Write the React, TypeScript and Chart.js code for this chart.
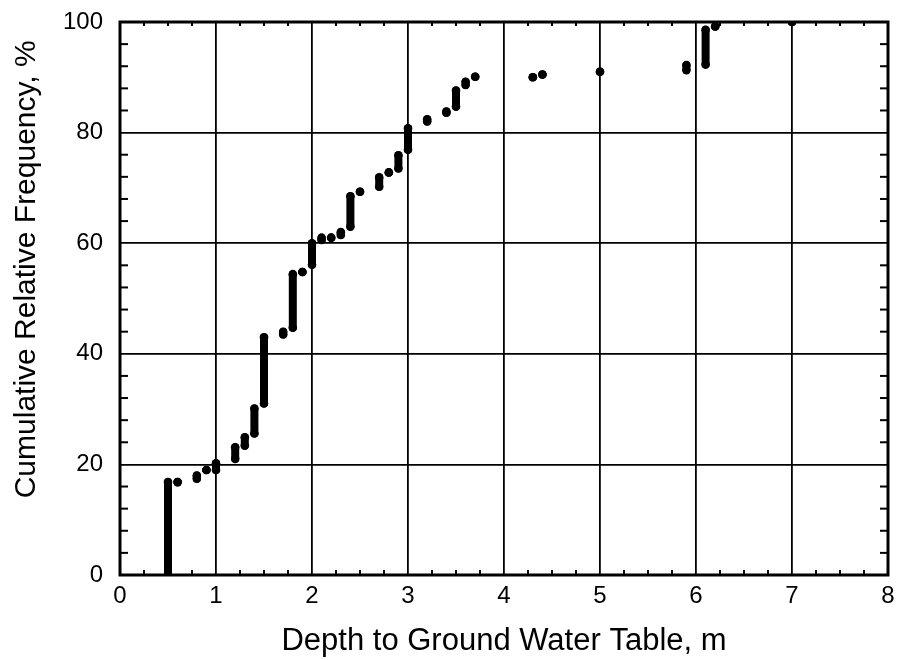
import React, { useEffect, useRef } from "react";
import { Chart, registerables } from "chart.js";

Chart.register(...registerables);

// Depth to ground water table (m) for each vertical group of observations
const depths = [0.5, 0.6, 0.8, 0.9, 1.0, 1.2, 1.3, 1.4, 1.5, 1.7, 1.8, 1.9, 2.0, 2.1, 2.2, 2.3, 2.4, 2.5, 2.7, 2.8, 2.9, 3.0, 3.2, 3.4, 3.5, 3.6, 3.7, 4.3, 4.4, 5.0, 5.9, 6.1, 6.2, 7.0];
// Lowest cumulative relative frequency (%) in each group
const freqLow = [0, 16.8, 17.4, 19.0, 19.0, 21.0, 23.4, 25.6, 31.0, 43.5, 44.7, 54.8, 56.1, 60.6, 61.0, 61.5, 63.0, 69.3, 70.2, 72.8, 73.5, 76.9, 82.0, 83.6, 84.7, 88.6, 90.1, 90.0, 90.5, 91.0, 91.3, 92.3, 99.2, 100];
// Highest cumulative relative frequency (%) in each group
const freqHigh = [16.8, 16.8, 18.0, 19.0, 20.2, 23.1, 24.9, 30.1, 43.0, 44.0, 54.4, 54.8, 60.0, 61.0, 61.0, 62.0, 68.5, 69.3, 71.9, 72.8, 75.9, 80.8, 82.4, 83.8, 87.6, 89.2, 90.1, 90.0, 90.5, 91.0, 92.2, 98.6, 99.2, 100];

const xTickLabels = ["0", "1", "2", "3", "4", "5", "6", "7", "8"];
const yTickLabels = ["0", "20", "40", "60", "80", "100"];

const FONT = "'Liberation Sans', Arial, Helvetica, sans-serif";

export default function App() {
  const ref = useRef<HTMLCanvasElement | null>(null);

  useEffect(() => {
    document.body.style.margin = "0";
    const canvas = ref.current;
    if (!canvas) return;

    const points: { x: number; y: number | null }[] = [];
    depths.forEach((d, i) => {
      points.push({ x: d, y: freqLow[i] });
      points.push({ x: d, y: freqHigh[i] });
      points.push({ x: d, y: null });
    });

    const xMinor: number[] = [];
    for (let i = 1; i < 32; i++) if (i % 4 !== 0) xMinor.push(i * 0.25);
    const yMinor: number[] = [];
    for (let i = 1; i < 25; i++) if (i % 5 !== 0) yMinor.push(i * 4);

    const frameTicks = {
      id: "frameTicks",
      afterDraw(chart: any) {
        const { ctx, chartArea } = chart;
        const { left, right, top, bottom } = chartArea;
        const xs = chart.scales.x;
        const ys = chart.scales.y;
        ctx.save();
        ctx.strokeStyle = "#000";
        ctx.lineWidth = 2;
        const line = (a: number, b: number, c: number, d: number) => {
          ctx.beginPath();
          ctx.moveTo(a, b);
          ctx.lineTo(c, d);
          ctx.stroke();
        };
        xMinor.forEach((v) => {
          const px = xs.getPixelForValue(v);
          line(px, bottom, px, bottom - 5);
          line(px, top, px, top + 4);
        });
        yMinor.forEach((v) => {
          const py = ys.getPixelForValue(v);
          line(left, py, left + 8, py);
          line(right, py, right - 8, py);
        });
        ctx.lineWidth = 3;
        ctx.strokeRect(left, top, right - left, bottom - top);
        ctx.restore();
      },
    };

    const chart = new Chart(canvas, {
      type: "scatter",
      data: {
        datasets: [
          {
            label: "Observations",
            data: points as any,
            showLine: true,
            spanGaps: false,
            borderColor: "#000",
            backgroundColor: "#000",
            borderWidth: 8,
            borderCapStyle: "round",
            pointRadius: 4.3,
            pointBorderWidth: 0,
            pointBackgroundColor: "#000",
          } as any,
        ],
      },
      options: {
        animation: false,
        responsive: false,
        layout: { padding: { left: 0, right: 10, top: 22, bottom: 0 } },
        plugins: { legend: { display: false }, tooltip: { enabled: false } },
        scales: {
          x: {
            type: "linear",
            min: 0,
            max: 8,
            afterFit: (s: any) => {
              s.height = 85;
              s.paddingLeft = 0;
              s.paddingRight = 0;
            },
            ticks: {
              stepSize: 1,
              padding: 7,
              color: "#000",
              font: { family: FONT, size: 24 },
              callback: (v: any) => xTickLabels[Math.round(Number(v))] ?? "",
            },
            grid: { color: "#000", lineWidth: 1.8, drawTicks: false },
            border: { display: false },
            title: {
              display: true,
              text: "Depth to Ground Water Table, m",
              color: "#000",
              font: { family: FONT, size: 31 },
              padding: { top: 0, bottom: 0 },
            },
          },
          y: {
            type: "linear",
            min: 0,
            max: 100,
            afterFit: (s: any) => {
              s.width = 120;
              s.paddingTop = 0;
              s.paddingBottom = 0;
            },
            ticks: {
              stepSize: 20,
              padding: 17,
              color: "#000",
              font: { family: FONT, size: 24 },
              callback: (v: any) => yTickLabels[Math.round(Number(v) / 20)] ?? "",
            },
            grid: { color: "#000", lineWidth: 1.8, drawTicks: false },
            border: { display: false },
            title: {
              display: true,
              text: "       Cumulative Relative Frequency, %",
              color: "#000",
              font: { family: FONT, size: 30 },
              padding: { top: 9, bottom: 0 },
            },
          },
        },
      },
      plugins: [frameTicks],
    });

    return () => chart.destroy();
  }, []);

  return (
    <div style={{ width: 898, height: 660, background: "#fff" }}>
      <canvas ref={ref} width={898} height={660} />
    </div>
  );
}
